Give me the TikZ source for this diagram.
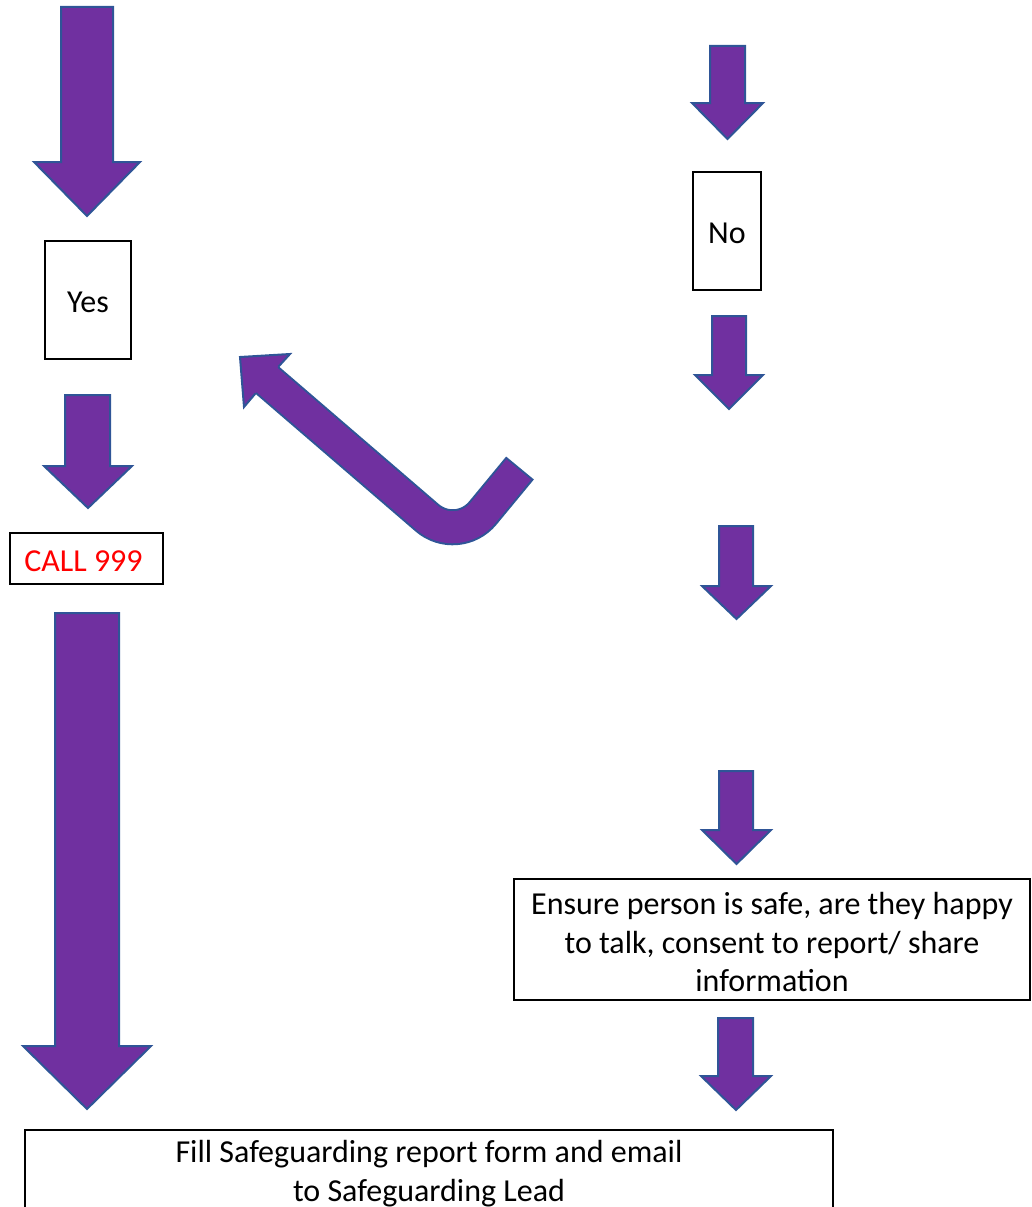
\documentclass[tikz,border=0pt]{standalone}
\usepackage{fontspec}
\setmainfont{Carlito}
\definecolor{arrfill}{HTML}{7030A0}
\definecolor{arrline}{HTML}{2F5597}
\newcommand\barrow[7]{\draw[blockarrow] (#1,#3) -- (#2,#3) -- (#2,#6) -- (#5,#6) -- ({(#4+#5)/2},#7) -- (#4,#6) -- (#1,#6) -- cycle;}
\begin{document}
\begin{tikzpicture}[x=1pt,y=-1pt,
  blockarrow/.style={fill=arrfill,draw=arrline,line width=2pt,line join=miter},
  box/.style={draw=black,line width=1.8pt,inner sep=0pt},
  lbl/.style={inner sep=0pt,align=center,yshift=-2.5pt,
    font=\fontsize{32}{38.5}\selectfont}]
\useasboundingbox (0,0) rectangle (1031,1207);
\clip (0,0) rectangle (1031,1207);
% left column arrows
\barrow{61}{113}{7}{34}{140}{162}{216}
\barrow{65}{110}{395}{44}{132}{466}{508}
\barrow{55}{119}{613}{23}{151}{1046}{1109}
% right column arrows
\barrow{710}{745}{46}{692}{763}{103}{139}
\barrow{712}{746}{316}{695}{763}{375}{409}
\barrow{719}{753}{526}{702}{771}{586}{619}
\barrow{719}{753}{771}{702}{771}{830}{864}
\barrow{718}{753}{1018}{701}{771}{1076}{1110}
% boxes
\node[box,minimum width=86pt,minimum height=118pt] (yes) at (88,300) {};
\node[lbl] (yest) at (yes.center) {Yes};
\node[box,minimum width=68pt,minimum height=118pt] (no) at (727,231) {};
\node[lbl] (not) at (no.center) {No};
\node[box,minimum width=153pt,minimum height=51pt] (call) at (86.5,558.5) {};
\node[lbl,text=red] (callt) at (83.5,558.5) {CALL 999};
\node[box,minimum width=516pt,minimum height=121pt] (ensure) at (772,939.5) {};
\node[lbl] (ensuret) at (ensure.center)
  {Ensure person is safe, are they happy\\to talk, consent to report/ share\\information};
\node[box,minimum width=808pt,minimum height=82pt] (fill) at (429,1171) {};
\node[lbl] (fillt) at (fill.center)
  {Fill Safeguarding report form and email\\to Safeguarding Lead};
% curved arrow
\coordinate (hb) at (264.7,378);
\coordinate (cc) at (457.4,543.8);
\coordinate (ce) at (520,468);
\coordinate (ce2) at (518.7,469.5);
\draw[line width=36pt,draw=arrline,rounded corners=40pt] (hb) -- (cc) -- (ce);
\draw[line width=32pt,draw=arrfill,rounded corners=40pt] (hb) -- (cc) -- (ce2);
\coordinate (tip) at (240,357);
\coordinate (w1) at (290,354);
\coordinate (w2) at (244,407);
\coordinate (is) at (278.4,366.7);
\coordinate (os) at (255.6,393.3);
\fill[arrfill] (tip) -- (w1) -- (is) -- (os) -- (w2) -- cycle;
\draw[arrline,line width=2pt,line join=miter] (is) -- (w1) -- (tip) -- (w2) -- (os);
\end{tikzpicture}
\end{document}
